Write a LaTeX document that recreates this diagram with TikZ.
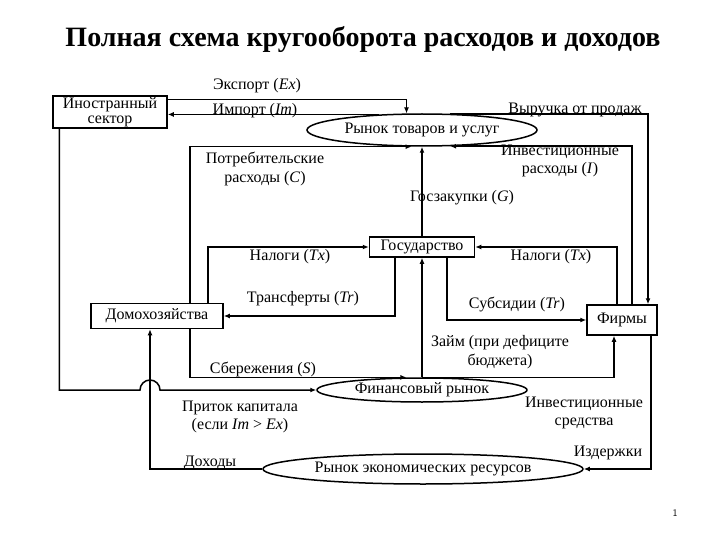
\documentclass[tikz,border=0pt]{standalone}
\usepackage{fontspec}
\setmainfont{Liberation Serif}
\usetikzlibrary{arrows.meta,shapes.geometric}

\begin{document}
\begin{tikzpicture}[x=1pt, y=-1pt, line width=1.5pt,
        font=\fontsize{16}{18.5}\selectfont,
        sector/.style={draw, rectangle, inner sep=1pt, align=center},
        market/.style={draw, ellipse, inner sep=0pt},
        flow/.style={-{Latex[length=6pt,width=5pt]}},
        lbl/.style={align=center, inner sep=0pt}]
\useasboundingbox (0,0) rectangle (720,540);

\node[lbl, font=\fontsize{28}{30}\selectfont\bfseries](title) at (363,40) {Полная схема кругооборота расходов и доходов};

% sectors and markets
\node[sector, minimum width=114pt, minimum height=31pt](foreign) at (110,112) {Иностранный\\[-3pt]сектор};
\node[market, minimum width=230pt, minimum height=32pt](goods) at (422,130) {Рынок товаров и услуг};
\node[sector, minimum width=105pt, minimum height=20pt](state) at (422,247) {Государство};
\node[sector, minimum width=70pt, minimum height=30pt](firms) at (622,320) {Фирмы};
\node[sector, minimum width=132pt, minimum height=25pt](house) at (157,316) {Домохозяйства};
\node[market, minimum width=210pt, minimum height=24pt](finance) at (422,390) {Финансовый рынок};
\node[market, minimum width=320pt, minimum height=30pt](resources) at (423,469) {Рынок экономических ресурсов};

\coordinate (hop) at ([xshift=-7pt]house.south |- finance.west);

% foreign trade
\draw[flow] ([yshift=-4pt]foreign.north east) -| (goods.133);
\draw[flow] (goods.160) -- (goods.160 -| foreign.east);
\draw[flow] ([xshift=7pt]foreign.south west) |- ([xshift=-10pt]hop) arc(180:0:10pt) -- (finance.west);

% spending on goods
\draw[flow] ([xshift=33pt]house.north) |- (goods.238);
\draw[flow] (state.north) -- (goods.south);
\draw[flow] ([xshift=10pt]firms.north) |- (goods.330);
\draw[flow] (goods.30) -| ([xshift=26pt]firms.north);

% government
\draw[flow] ([xshift=51pt]house.north) |- (state.west);
\draw[flow] ([xshift=-27pt]state.south) |- (house.east);
\draw[flow] ([xshift=-5pt]firms.north) |- (state.east);
\draw[flow] ([xshift=25pt]state.south) |- (firms.west);

% finance
\draw[flow] (finance.north) -- (state.south);
\draw[flow] (finance.north) -| ([xshift=-8pt]firms.south);
\draw[flow] ([xshift=33pt]house.south) |- (finance.141);

% resources
\draw[flow] ([xshift=29pt]firms.south) |- (resources.east);
\draw[flow] (resources.west) -| ([xshift=-7pt]house.south);

% labels
\node[lbl](exl) at (257,86) {Экспорт (\textit{Ex})};
\node[lbl](iml) at (255,111) {Импорт (\textit{Im})};
\node[lbl](consl) at (265,169) {Потребительские\\расходы (\textit{C})};
\node[lbl](revl) at (575,110) {Выручка от продаж};
\node[lbl](invl) at (560,161) {Инвестиционные\\расходы (\textit{I})};
\node[lbl](govl) at (462,198) {Госзакупки (\textit{G})};
\node[lbl](taxhl) at (290,257) {Налоги (\textit{Tx})};
\node[lbl](trl) at (303,299) {Трансферты (\textit{Tr})};
\node[lbl](taxfl) at (551,257) {Налоги (\textit{Tx})};
\node[lbl](subl) at (517,304) {Субсидии (\textit{Tr})};
\node[lbl](loanl) at (500,352) {Займ (при дефиците\\бюджета)};
\node[lbl](savl) at (263,369) {Сбережения (\textit{S})};
\node[lbl](capl) at (240,417) {Приток капитала\\(если \textit{Im} > \textit{Ex})};
\node[lbl](fundl) at (584,413) {Инвестиционные\\средства};
\node[lbl](costl) at (608,453) {Издержки};
\node[lbl](incl) at (210,463) {Доходы};
\node[lbl, font=\sffamily\fontsize{10}{12}\selectfont](page) at (675,513) {1};
\end{tikzpicture}
\end{document}
